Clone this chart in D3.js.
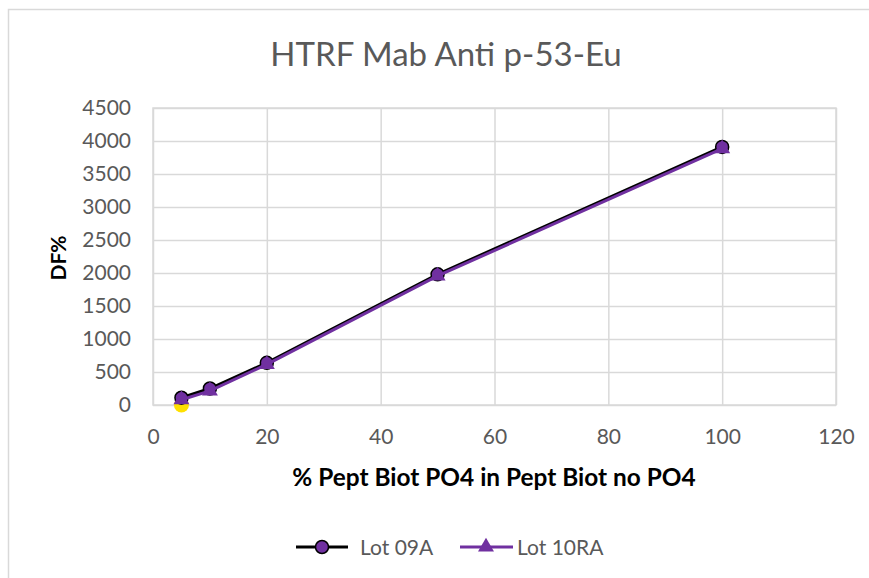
<!DOCTYPE html>
<html>
<head>
<meta charset="utf-8">
<script src="https://cdn.jsdelivr.net/npm/d3@7"></script>
<style>
body { margin:0; background:#fff; }
text { font-family: Lato, Carlito, Calibri, sans-serif; }
</style>
</head>
<body>
<div id="chart"></div>
<script>
const xPercent = [5, 10, 20, 50, 100]
const lot09A = [110, 250, 640, 1980, 3910]
const lot10RA = [80, 215, 615, 1955, 3885]
const extraX = [5]
const extraY = [0]
const xTicks = [0, 20, 40, 60, 80, 100, 120]
const yTicks = [0, 500, 1000, 1500, 2000, 2500, 3000, 3500, 4000, 4500]

const width = 869
const height = 578
const margin = { top:108, bottom:173, left:153, right:33 }
const innerWidth = width - margin.left - margin.right
const innerHeight = height - margin.top - margin.bottom
const purple = '#7030a0'
const fontFam = 'Lato, Carlito, Calibri, sans-serif'

const svg = d3.select('#chart').append('svg')
  .attr('width', width).attr('height', height)

// chart frame
svg.append('rect')
  .attr('x', 8.5).attr('y', 9.5)
  .attr('width', width + 20).attr('height', height + 20)
  .attr('fill', 'none').attr('stroke', '#d9d9d9').attr('stroke-width', 1.5)

svg.append('text')
  .text('HTRF Mab Anti p-53-Eu')
  .attr('x', 446).attr('y', 66)
  .attr('text-anchor', 'middle')
  .attr('font-size', 33)
  .attr('fill', '#595959')

const g = svg.append('g').attr('transform', `translate(${margin.left},${margin.top})`)

const xScale = d3.scaleLinear().domain([0, 120]).range([0, innerWidth])
const yScale = d3.scaleLinear().domain([0, 4500]).range([innerHeight, 0])

const yAxis = d3.axisLeft(yScale).tickValues(yTicks).tickFormat(d3.format('d'))
  .tickSize(-innerWidth).tickPadding(22)
const yAxisGroup = g.append('g').call(yAxis)
yAxisGroup.select('.domain').remove()
yAxisGroup.selectAll('line').attr('stroke', '#d9d9d9').attr('stroke-width', 1.5)
yAxisGroup.selectAll('text').attr('font-size', 21).attr('fill', '#595959')
  .style('font-family', fontFam)

const xAxis = d3.axisBottom(xScale).tickValues(xTicks).tickSize(-innerHeight).tickPadding(24)
const xAxisGroup = g.append('g').attr('transform', `translate(0,${innerHeight})`).call(xAxis)
xAxisGroup.select('.domain').remove()
xAxisGroup.selectAll('line').attr('stroke', '#d9d9d9').attr('stroke-width', 1.5)
xAxisGroup.selectAll('text').attr('font-size', 21).attr('fill', '#595959')
  .style('font-family', fontFam)

// plot area border
g.append('rect').attr('width', innerWidth).attr('height', innerHeight)
  .attr('fill', 'none').attr('stroke', '#d9d9d9').attr('stroke-width', 1.5)

svg.append('text')
  .text('% Pept Biot PO4 in Pept Biot no PO4')
  .attr('x', 494).attr('y', 486)
  .attr('text-anchor', 'middle')
  .attr('font-size', 24.4).attr('font-weight', 'bold').attr('fill', '#000')

svg.append('text')
  .text('DF%')
  .attr('transform', 'translate(66,258) rotate(-90)')
  .attr('text-anchor', 'middle')
  .attr('font-size', 21).attr('font-weight', 'bold').attr('fill', '#000')

const line = d3.line().x(d => xScale(d[0])).y(d => yScale(d[1]))
const d09 = xPercent.map((x, i) => [x, lot09A[i]])
const d10 = xPercent.map((x, i) => [x, lot10RA[i]])
const dExtra = extraX.map((x, i) => [x, extraY[i]])

const tri = d3.symbol().type(d3.symbolTriangle).size(110)

// extra yellow point
g.selectAll('.extra').data(dExtra).enter().append('circle')
  .attr('cx', d => xScale(d[0])).attr('cy', d => yScale(d[1]))
  .attr('r', 7.5).attr('fill', '#ffe000')

g.append('path').datum(d09).attr('d', line)
  .attr('fill', 'none').attr('stroke', '#000').attr('stroke-width', 3)
g.selectAll('.m09').data(d09).enter().append('circle')
  .attr('cx', d => xScale(d[0])).attr('cy', d => yScale(d[1]))
  .attr('r', 6.5).attr('fill', purple).attr('stroke', '#000').attr('stroke-width', 1.5)

g.append('path').datum(d10).attr('d', line)
  .attr('fill', 'none').attr('stroke', purple).attr('stroke-width', 3)
g.selectAll('.m10').data(d10).enter().append('path')
  .attr('d', tri)
  .attr('transform', d => `translate(${xScale(d[0])},${yScale(d[1])})`)
  .attr('fill', purple)

// legend
const legend = svg.append('g').attr('transform', 'translate(0,547)')
legend.append('line').attr('x1', 296).attr('x2', 348).attr('y1', 0).attr('y2', 0)
  .attr('stroke', '#000').attr('stroke-width', 3)
legend.append('circle').attr('cx', 322).attr('cy', 0).attr('r', 6.5)
  .attr('fill', purple).attr('stroke', '#000').attr('stroke-width', 1.5)
legend.append('text').text('Lot 09A').attr('x', 360).attr('y', 7.5)
  .attr('font-size', 21).attr('fill', '#595959')
legend.append('line').attr('x1', 460).attr('x2', 513).attr('y1', 0).attr('y2', 0)
  .attr('stroke', purple).attr('stroke-width', 3)
legend.append('path').attr('d', tri).attr('transform', 'translate(486,0)').attr('fill', purple)
legend.append('text').text('Lot 10RA').attr('x', 517).attr('y', 7.5)
  .attr('font-size', 21).attr('fill', '#595959')
</script>
</body>
</html>
